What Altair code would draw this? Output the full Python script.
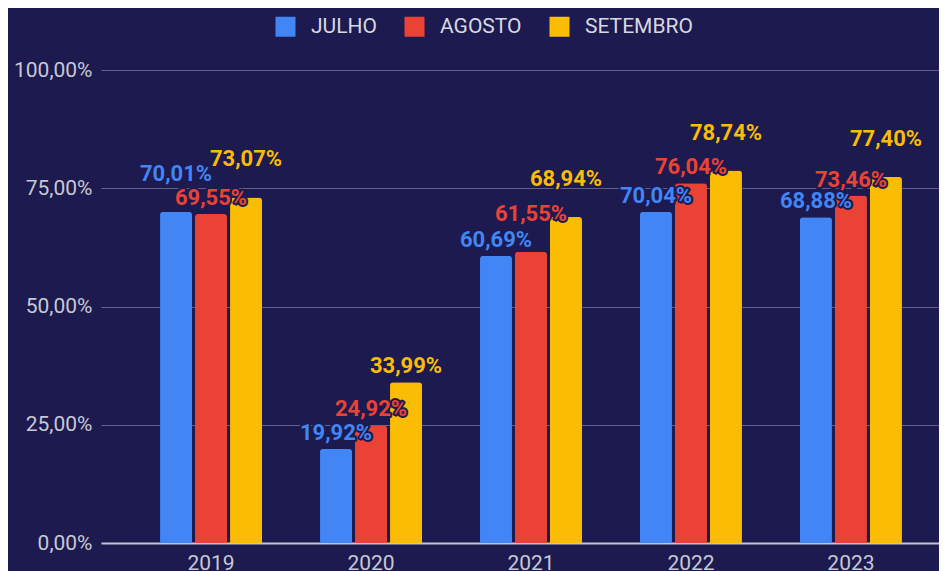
import altair as alt
import pandas as pd

years = ["2019", "2020", "2021", "2022", "2023"]
series = ["JULHO", "AGOSTO", "SETEMBRO"]
julho = [70.01, 19.92, 60.69, 70.04, 68.88]
agosto = [69.55, 24.92, 61.55, 76.04, 73.46]
setembro = [73.07, 33.99, 68.94, 78.74, 77.40]
colors = ["#4285F4", "#EA4335", "#FBBC04"]

PLOT_W, PLOT_H = 838, 473
ppu = PLOT_H / 100.0  # pixels per percent unit

rows = []
for i, y in enumerate(years):
    vals = [("JULHO", julho[i]), ("AGOSTO", agosto[i]), ("SETEMBRO", setembro[i])]
    placed = []
    for s, v in sorted(vals, key=lambda t: t[1]):
        c = v + 16 / ppu
        if any(abs(c - p) < 20 / ppu for p in placed):
            c += 22 / ppu
        placed.append(c)
        rows.append({
            "year": y, "serie": s, "value": v, "label_y": c,
            "label": f"{v:.2f}".replace(".", ",") + "%",
        })
df = pd.DataFrame(rows)

FONT = "Roboto"
BG = "#1c1a4e"

x_enc = alt.X("year:N", sort=years, title=None,
              scale=alt.Scale(range=[0, 860], paddingInner=0.3625, paddingOuter=0.369),
              axis=alt.Axis(ticks=False, labelAngle=0, labelFontSize=21, labelColor="#c8c8d4",
                            labelFont=FONT, labelPadding=9, domainColor="#c5c5d0", domainWidth=2))
xo_enc = alt.XOffset("serie:N", sort=series,
                     scale=alt.Scale(paddingInner=0.086, paddingOuter=0))
color_enc = alt.Color("serie:N", sort=series,
                      scale=alt.Scale(domain=series, range=colors),
                      legend=alt.Legend(orient="none", legendX=174, legendY=-54, direction="horizontal",
                                        title=None, symbolType="square", symbolSize=400,
                                        symbolStrokeWidth=0, labelFontSize=21, labelFont=FONT,
                                        labelColor="#d8d8e0", labelOffset=15, columnPadding=27))

bars = alt.Chart(df).mark_bar(cornerRadiusTopLeft=3, cornerRadiusTopRight=3).encode(
    x=x_enc,
    xOffset=xo_enc,
    y=alt.Y("value:Q", title=None, scale=alt.Scale(domain=[0, 100]),
            axis=alt.Axis(values=[0, 25, 50, 75, 100],
                          labelExpr="replace(format(datum.value, '.2f'), '.', ',') + '%'",
                          grid=True, gridColor="#62608a", gridWidth=1, domain=False, ticks=False,
                          labelPadding=9, labelFontSize=21, labelFont=FONT, labelColor="#c8c8d4")),
    color=color_enc,
)

halo = alt.Chart(df).mark_text(fontSize=22, fontWeight="bold", font=FONT, baseline="middle",
                               stroke=BG, strokeWidth=4, strokeJoin="round", fill=BG).encode(
    x=alt.X("year:N", sort=years),
    xOffset=alt.XOffset("serie:N", sort=series),
    y=alt.Y("label_y:Q"),
    text="label:N",
)

labels = alt.Chart(df).mark_text(fontSize=22, fontWeight="bold", font=FONT, baseline="middle").encode(
    x=alt.X("year:N", sort=years),
    xOffset=alt.XOffset("serie:N", sort=series),
    y=alt.Y("label_y:Q"),
    text="label:N",
    color=alt.Color("serie:N", sort=series, legend=None),
)

chart = alt.layer(bars, halo, labels).properties(
    width=PLOT_W, height=PLOT_H,
    autosize=alt.AutoSizeParams(type="none"),
    padding={"left": 93, "top": 62, "right": 0, "bottom": 28},
    background=BG,
).configure_view(stroke=None)

chart.save("out.html", embed_options={"renderer": "svg", "actions": False})
